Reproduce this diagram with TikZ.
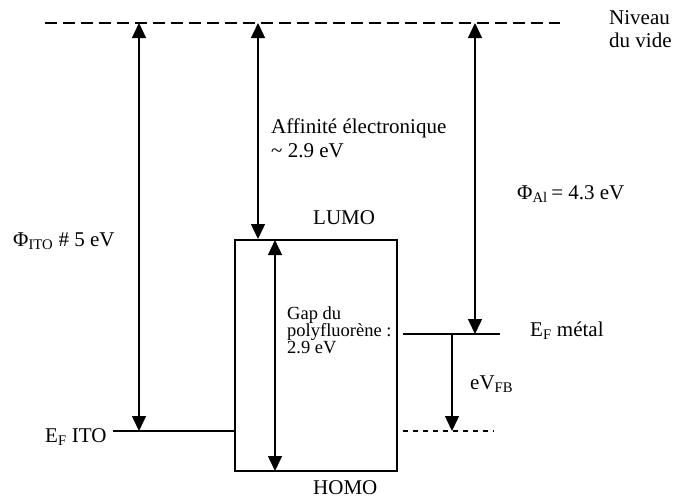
\documentclass[tikz,border=0pt]{standalone}
\usepackage{fontspec}
\setmainfont{Liberation Serif}
\usetikzlibrary{arrows.meta}
\begin{document}
\begin{tikzpicture}[x=1pt,y=-1pt,
  lbl/.style={anchor=base west,inner sep=0pt,font=\fontsize{21}{23}\selectfont},
  small/.style={anchor=base west,inner sep=0pt,font=\fontsize{18.5}{17}\selectfont},
  lvl/.style={line width=1.4pt},
  vac/.style={line width=1.4pt,dash pattern=on 12pt off 6pt},
  fine/.style={line width=1.4pt,dash pattern=on 5pt off 5pt},
  dbl/.style={line width=1.4pt,{Triangle[length=15pt,width=14pt]}-{Triangle[length=15pt,width=14pt]}},
  sgl/.style={line width=1.4pt,-{Triangle[length=15pt,width=14pt]}}]
\useasboundingbox (0,0) rectangle (675,499);
% vacuum level
\coordinate (vacL) at (45,23);
\coordinate (vacR) at (560,23);
\draw[vac] (vacL) -- (vacR);
% coordinates
\coordinate (itoT) at (139,23);  \coordinate (itoB) at (139,431);
\coordinate (affT) at (258,23);  \coordinate (affB) at (258,239);
\coordinate (gapT) at (275,240); \coordinate (gapB) at (275,471);
\coordinate (alT)  at (475,23);  \coordinate (alB)  at (475,334);
\coordinate (fbT)  at (452,334); \coordinate (fbB)  at (452,431);
\coordinate (efiL) at (113,431); \coordinate (efiR) at (236,431);
\coordinate (efmL) at (403,334); \coordinate (efmR) at (500,334);
\coordinate (fbL)  at (403,431); \coordinate (fbR)  at (494,431);
\coordinate (boxA) at (235,240); \coordinate (boxB) at (397,471);
% levels
\draw[lvl] (boxA) rectangle (boxB);
\draw[lvl] (efiL) -- (efiR);
\draw[lvl] (efmL) -- (efmR);
\draw[fine] (fbL) -- (fbR);
% arrows
\draw[dbl] (itoT) -- (itoB);
\draw[dbl] (affT) -- (affB);
\draw[dbl] (gapT) -- (gapB);
\draw[dbl] (alT) -- (alB);
\draw[sgl] (fbT) -- (fbB);
% labels
\node[lbl] (niv1) at (609,24) {Niveau};
\node[lbl] (niv2) at (609,47) {du vide};
\node[lbl] (aff1) at (271,133) {Affinité électronique};
\node[lbl] (aff2) at (271,157) {\textasciitilde\ 2.9 eV};
\node[lbl] (lumo) at (313,224) {LUMO};
\node[lbl] (homo) at (313,494) {HOMO};
\node[lbl] (phiito) at (13,246) {Φ\textsubscript{ITO} \# 5 eV};
\node[lbl] (phial) at (517,199) {Φ\textsubscript{Al}\,= 4.3 eV};
\node[small] (gap1) at (287,319) {Gap du};
\node[small] (gap2) at (287,336) {polyfluorène :};
\node[small] (gap3) at (287,353) {2.9 eV};
\node[lbl] (efito) at (45,442) {E\textsubscript{F} ITO};
\node[lbl] (efmet) at (530,336) {E\textsubscript{F} métal};
\node[lbl] (evfb) at (470,389) {eV\textsubscript{FB}};
\end{tikzpicture}
\end{document}
